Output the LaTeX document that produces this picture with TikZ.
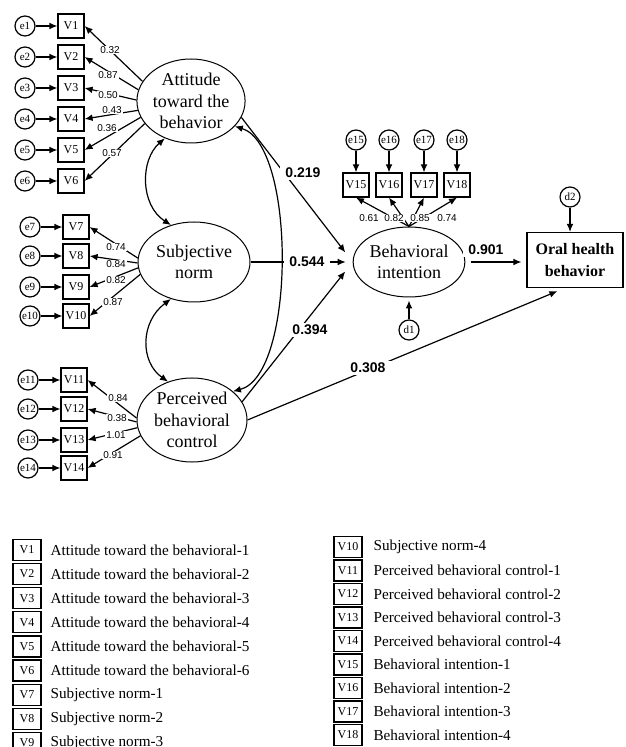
\documentclass[tikz,border=0pt]{standalone}
\usepackage{fontspec}
\setmainfont{Liberation Serif}
\newfontfamily\sansnum{Liberation Sans}
\usetikzlibrary{arrows.meta,shapes.geometric}

\begin{document}
\begin{tikzpicture}[x=0.5pt,y=-0.5pt,line width=0.6pt,>={Latex[length=4pt,width=3.4pt]},
  latent/.style={draw,ellipse,line width=0.5pt,inner sep=0pt,align=center,font=\fontsize{9}{10.75}\selectfont},
  obs/.style={draw,minimum width=13pt,minimum height=12pt,inner sep=0.5pt,font=\fontsize{6}{7}\selectfont},
  err/.style={draw,circle,minimum size=10pt,inner sep=0pt,font=\fontsize{5.5}{6}\selectfont},
  load/.style={fill=white,inner sep=0.4pt,font=\sansnum\fontsize{5}{6}\selectfont},
  coef/.style={fill=white,inner xsep=2.5pt,inner ysep=1pt,font=\sansnum\bfseries\fontsize{7}{8}\selectfont},
  key/.style={draw,minimum width=14pt,minimum height=10.5pt,inner sep=0.5pt,font=\fontsize{6}{7}\selectfont},
  keytext/.style={anchor=west,inner sep=0pt,font=\fontsize{7.6}{9}\selectfont}]
  \useasboundingbox (0,0) rectangle (625,747);
  \node[latent,minimum width=54pt,minimum height=42pt] (att) at (191,101) {Attitude\\toward the\\behavior};
  \node[latent,minimum width=56pt,minimum height=40pt] (sn) at (194,262) {Subjective\\norm};
  \node[latent,minimum width=55pt,minimum height=42pt] (pbc) at (192,420) {Perceived\\behavioral\\control};
  \node[latent,minimum width=53pt,minimum height=35pt] (bi) at (409,262) {Behavioral\\intention};
  \node[draw,align=center,minimum width=48pt,minimum height=27.5pt,font=\bfseries\fontsize{8}{11}\selectfont] (ohb) at (575,260) {Oral health\\behavior};
  \node[err] (d1) at (409,330) {d1};
  \node[err] (d2) at (570,197) {d2};

  \foreach \i/\y/\ang in {1/26/158,2/57/168,3/88/179,4/119/190,5/150/198,6/181/206}{
    \node[obs] (V\i) at (71,\y) {V\i};
    \node[err] (e\i) at (25,\y) {e\i};
    \draw[->] (e\i) -- (V\i);
    \draw[->] (att.\ang) -- (V\i.east);}
  \foreach \i/\y/\ang in {7/227/176,8/256/181,9/287/186,10/316/193}{
    \node[obs] (V\i) at (76,\y) {V\i};
    \node[err] (e\i) at (30,\y) {e\i};
    \draw[->] (e\i) -- (V\i);
    \draw[->] (sn.\ang) -- (V\i.east);}
  \foreach \i/\y/\ang in {11/380/178,12/409/182,13/440/188,14/468/197}{
    \node[obs] (V\i) at (74,\y) {V\i};
    \node[err] (e\i) at (28,\y) {e\i};
    \draw[->] (e\i) -- (V\i);
    \draw[->] (pbc.\ang) -- (V\i.east);}
  \foreach \i/\x in {15/356,16/389,17/424,18/457}{
    \node[obs] (V\i) at (\x,185) {V\i};
    \node[err] (e\i) at (\x,140) {e\i};
    \draw[->] (e\i) -- (V\i);
    \draw[->] (bi.north) -- (V\i.south);}

  \draw[<->] (att.235) .. controls (140,160) and (140,205) .. (sn.122);
  \draw[<->] (sn.238) .. controls (140,322) and (140,362) .. (pbc.122);
  \draw[<->] (att.330) .. controls (296,145) and (296,375) .. (pbc.35);
  \draw[->,shorten >=6pt] (att.342) -- (bi.west);
  \draw[->,shorten >=3.5pt] (sn) -- (bi);
  \draw[->,shorten >=6pt] (pbc.20) -- (bi.west);
  \draw[->,shorten <=3pt,shorten >=2.5pt] (bi.east) -- (bi.east -| ohb.west);
  \draw[->,shorten >=4pt] (pbc.east) -- (ohb.250);
  \draw[->,shorten >=1.5pt] (d1) -- (bi);
  \draw[->] (d2) -- (d2 |- ohb.north);

  \foreach \val/\px/\py [count=\idx] in {0.32/110/50,0.87/108/75,0.50/108/95,0.43/112/110,0.36/107/128,0.57/112/153,
      0.74/116/247,0.84/116/264,0.82/116/280,0.87/113/302,
      0.84/118/398,0.38/117/418,1.01/116/435,0.91/113/455,
      0.61/369/218,0.82/394/218,0.85/420/218,0.74/447/218}
    \node[load] (w\idx) at (\px,\py) {\val};
  \node[coef] (c1) at (303,173) {0.219};
  \node[coef] (c2) at (307,262) {0.544};
  \node[coef] (c3) at (310,330) {0.394};
  \node[coef] (c4) at (368,368) {0.308};
  \node[coef] (c5) at (486,250) {0.901};

  \foreach \t [count=\idx from 1] in {Attitude toward the behavioral-1,Attitude toward the behavioral-2,
      Attitude toward the behavioral-3,Attitude toward the behavioral-4,Attitude toward the behavioral-5,
      Attitude toward the behavioral-6,Subjective norm-1,Subjective norm-2,Subjective norm-3}{
    \node[key] (k\idx) at (27,{550+24.1*(\idx-1)}) {V\idx};
    \node[keytext] (t\idx) at (50,{550+24.1*(\idx-1)}) {\t};}
  \foreach \t [count=\idx from 10] in {Subjective norm-4,Perceived behavioral control-1,Perceived behavioral control-2,
      Perceived behavioral control-3,Perceived behavioral control-4,Behavioral intention-1,
      Behavioral intention-2,Behavioral intention-3,Behavioral intention-4}{
    \node[key] (k\idx) at (348,{547+23.5*(\idx-10)}) {V\idx};
    \node[keytext] (t\idx) at (373,{547+23.5*(\idx-10)}) {\t};}
\end{tikzpicture}
\end{document}
